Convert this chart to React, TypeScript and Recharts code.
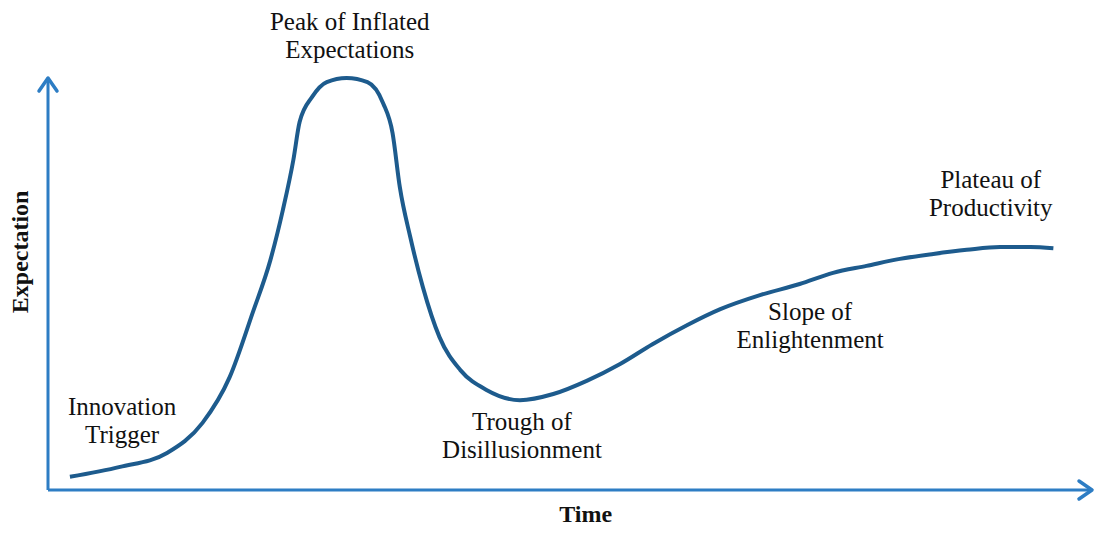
import React from 'react';
import { LineChart, Line, XAxis, YAxis, ReferenceDot, ReferenceLine } from 'recharts';

// Hype cycle curve (time 0..100, expectation 0..100)
const timeValues = [2.1, 6.9, 11.4, 14.8, 17.4, 19.6, 21.3, 22.5, 23.5, 24.1, 25.3, 26.7, 28.6, 30.6, 32.1, 33.0, 33.7, 34.7, 35.9, 37.5, 39.5, 42.0, 45.2, 48.4, 51.6, 54.8, 57.9, 61.2, 64.4, 68.2, 72.0, 75.2, 78.4, 81.6, 84.8, 88.0, 91.2, 94.1, 96.3];
const expectationValues = [3.2, 5.6, 9.0, 16.3, 27.4, 43.0, 55.8, 68.0, 80.1, 89.3, 95.4, 99.0, 100.0, 99.0, 93.9, 86.7, 73.5, 61.4, 49.3, 37.1, 29.1, 24.3, 21.8, 23.3, 26.5, 30.6, 35.4, 40.0, 43.9, 47.3, 50.0, 52.7, 54.4, 56.1, 57.3, 58.3, 59.0, 59.0, 58.7];

// Phase labels: anchor position (time, expectation) and text lines
const phaseNames = [
  ['Innovation', 'Trigger'],
  ['Peak of Inflated', 'Expectations'],
  ['Trough of', 'Disillusionment'],
  ['Slope of', 'Enlightenment'],
  ['Plateau of', 'Productivity'],
];
const phaseX = [7.1, 28.9, 45.4, 73.0, 90.3];
const phaseY = [18.2, 111.7, 14.6, 41.3, 73.3];

const xAxisTitle = 'Time';
const yAxisTitle = 'Expectation';
const xTitlePos = [51.5, -7.8];
const yTitlePos = [-1.9, 57.8];

const data = timeValues.map((t, i) => ({ t, e: expectationValues[i] }));

const AXIS_COLOR = '#2d7dc4';
const CURVE_COLOR = '#1d5b8d';
const FONT = '"Liberation Serif", "Times New Roman", serif';

const ArrowRight = (props: any) => {
  const { cx, cy } = props;
  return (
    <path
      d={`M ${cx - 13} ${cy - 9} L ${cx} ${cy} L ${cx - 13} ${cy + 9}`}
      fill="none"
      stroke={AXIS_COLOR}
      strokeWidth={3.5}
      strokeLinecap="round"
      strokeLinejoin="round"
    />
  );
};

const ArrowUp = (props: any) => {
  const { cx, cy } = props;
  return (
    <path
      d={`M ${cx - 9} ${cy + 13} L ${cx} ${cy} L ${cx + 9} ${cy + 13}`}
      fill="none"
      stroke={AXIS_COLOR}
      strokeWidth={3.5}
      strokeLinecap="round"
      strokeLinejoin="round"
    />
  );
};

const makeTextShape = (lines: string[]) => (props: any) => {
  const { cx, cy } = props;
  return (
    <text x={cx} y={cy} textAnchor="middle" fontFamily={FONT} fontSize={25} fill="#111">
      {lines.map((l, i) => (
        <tspan key={i} x={cx} dy={i === 0 ? 0 : 28}>
          {l}
        </tspan>
      ))}
    </text>
  );
};

const XTitle = (props: any) => {
  const { cx, cy } = props;
  return (
    <text x={cx} y={cy} textAnchor="middle" fontFamily={FONT} fontWeight="bold" fontSize={24} fill="#111">
      {xAxisTitle}
    </text>
  );
};

const YTitle = (props: any) => {
  const { cx, cy } = props;
  return (
    <text
      x={cx}
      y={cy}
      transform={`rotate(-90 ${cx} ${cy})`}
      textAnchor="middle"
      fontFamily={FONT}
      fontWeight="bold"
      fontSize={24}
      fill="#111"
    >
      {yAxisTitle}
    </text>
  );
};

export default function App() {
  return (
    <div style={{ position: 'absolute', left: 0, top: 0, background: '#fff' }}>
      <LineChart
        width={1096}
        height={533}
        data={data}
        margin={{ top: 78, right: 4, bottom: 43, left: 48 }}
      >
        <XAxis dataKey="t" type="number" domain={[0, 100]} hide />
        <YAxis type="number" domain={[0, 100]} hide />
        <ReferenceLine y={0} stroke={AXIS_COLOR} strokeWidth={3} ifOverflow="visible" />
        <ReferenceLine x={0} stroke={AXIS_COLOR} strokeWidth={3} ifOverflow="visible" />
        <Line
          type="monotone"
          dataKey="e"
          stroke={CURVE_COLOR}
          strokeWidth={4}
          dot={false}
          activeDot={false}
          isAnimationActive={false}
        />
        <ReferenceDot x={100} y={0} ifOverflow="visible" shape={ArrowRight} />
        <ReferenceDot x={0} y={100} ifOverflow="visible" shape={ArrowUp} />
        <ReferenceDot x={xTitlePos[0]} y={xTitlePos[1]} ifOverflow="visible" shape={XTitle} />
        <ReferenceDot x={yTitlePos[0]} y={yTitlePos[1]} ifOverflow="visible" shape={YTitle} />
        {phaseNames.map((lines, i) => (
          <ReferenceDot
            key={i}
            x={phaseX[i]}
            y={phaseY[i]}
            ifOverflow="visible"
            shape={makeTextShape(lines)}
          />
        ))}
      </LineChart>
    </div>
  );
}
